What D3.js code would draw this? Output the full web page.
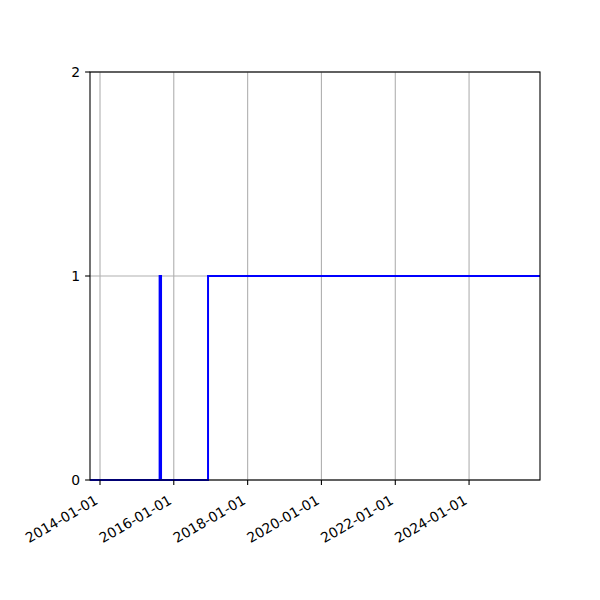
<!DOCTYPE html>
<html lang="en">
<head>
<meta charset="UTF-8">
<title>Step chart</title>
<script src="https://d3js.org/d3.v7.min.js"></script>
<style>
    body { margin: 0; background: #fff; }
    text { font-family: "DejaVu Sans", sans-serif; font-size: 13.9px; fill: #000; }
</style>
</head>
<body>
<svg width="600" height="600"></svg>
<script>
    // step data (value holds until the next date)
    const dates = ["2013-09-24", "2015-08-14", "2015-08-28", "2016-12-05", "2025-12-03"];
    const values = [0, 1, 0, 1, 1];
    const xTickDates = ["2014-01-01", "2016-01-01", "2018-01-01", "2020-01-01", "2022-01-01", "2024-01-01"];
    const yTicks = [0, 1, 2];

    const svg = d3.select("svg");
    const mLeft = 90, mRight = 540, mTop = 72, mBottom = 480;

    const parse = d3.utcParse("%Y-%m-%d");
    const data = dates.map((d, i) => ({ date: parse(d), value: values[i] }));

    const x = d3.scaleUtc()
        .domain(d3.extent(data, d => d.date))
        .range([mLeft, mRight]);
    const y = d3.scaleLinear().domain([0, 2]).range([mBottom, mTop]);

    // grid
    const grid = svg.append("g").attr("stroke", "#b0b0b0").attr("stroke-width", 1.1);
    grid.selectAll(".gx").data(xTickDates).enter().append("line")
        .attr("x1", d => x(parse(d))).attr("x2", d => x(parse(d)))
        .attr("y1", mTop).attr("y2", mBottom);
    grid.selectAll(".gy").data(yTicks).enter().append("line")
        .attr("x1", mLeft).attr("x2", mRight)
        .attr("y1", d => y(d)).attr("y2", d => y(d));

    // step line
    const line = d3.line()
        .x(d => x(d.date))
        .y(d => y(d.value))
        .curve(d3.curveStepAfter);
    svg.append("path").datum(data)
        .attr("d", line)
        .attr("fill", "none")
        .attr("stroke", "#0000ff")
        .attr("stroke-width", 2);

    // frame
    svg.append("rect")
        .attr("x", mLeft).attr("y", mTop)
        .attr("width", mRight - mLeft).attr("height", mBottom - mTop)
        .attr("fill", "none").attr("stroke", "#000").attr("stroke-width", 1.1);

    // x ticks
    const xt = svg.append("g");
    xt.selectAll("line").data(xTickDates).enter().append("line")
        .attr("x1", d => x(parse(d))).attr("x2", d => x(parse(d)))
        .attr("y1", mBottom).attr("y2", mBottom + 4.9)
        .attr("stroke", "#000").attr("stroke-width", 1.1);
    xt.selectAll("text").data(xTickDates).enter().append("text")
        .attr("transform", d => `translate(${x(parse(d)) - 1},${mBottom + 23}) rotate(-30)`)
        .attr("text-anchor", "end")
        .text(d => d);

    // y ticks
    const yt = svg.append("g");
    yt.selectAll("line").data(yTicks).enter().append("line")
        .attr("x1", mLeft - 4.9).attr("x2", mLeft)
        .attr("y1", d => y(d)).attr("y2", d => y(d))
        .attr("stroke", "#000").attr("stroke-width", 1.1);
    yt.selectAll("text").data(yTicks).enter().append("text")
        .attr("x", mLeft - 9.8)
        .attr("y", d => y(d))
        .attr("dy", "0.36em")
        .attr("text-anchor", "end")
        .text(d => d);
</script>
</body>
</html>
